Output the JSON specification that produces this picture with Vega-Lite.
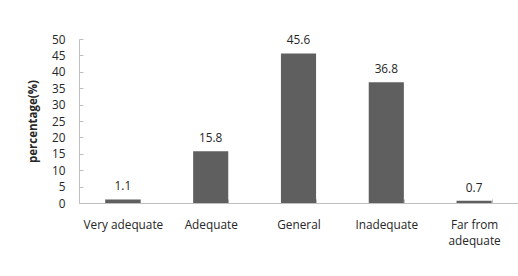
{
  "$schema": "https://vega.github.io/schema/vega-lite/v6.json",
  "autosize": "none",
  "padding": {"left": 79, "top": 39, "right": 0, "bottom": 73},
  "width": 439,
  "height": 164,
  "background": "white",
  "config": {
    "view": {"stroke": null},
    "font": "Open Sans",
    "axis": {"labelFont": "Open Sans", "titleFont": "Open Sans", "labelColor": "#262626", "titleColor": "#262626"}
  },
  "data": {
    "values": [
      {"category": "Very adequate", "percentage": 1.1},
      {"category": "Adequate", "percentage": 15.8},
      {"category": "General", "percentage": 45.6},
      {"category": "Inadequate", "percentage": 36.8},
      {"category": "Far from adequate", "percentage": 0.7}
    ]
  },
  "encoding": {
    "x": {
      "field": "category",
      "type": "nominal",
      "sort": null,
      "scale": {"paddingInner": 0.6, "paddingOuter": 0.3},
      "axis": {
        "title": null,
        "labelAngle": 0,
        "labelFontSize": 11.8,
        "labelPadding": 20,
        "labelExpr": "datum.label == 'Far from adequate' ? ['Far from', 'adequate'] : datum.label",
        "labelLineHeight": 16,
        "domainColor": "#bfbfbf",
        "tickColor": "#bfbfbf",
        "tickBand": "extent",
        "tickSize": -4,
        "labelBaseline": "top"
      }
    },
    "y": {
      "field": "percentage",
      "type": "quantitative",
      "scale": {"domain": [0, 50]},
      "axis": {
        "title": "percentage(%)",
        "titleFontWeight": "bold",
        "titleFontSize": 11.5,
        "titlePadding": 13,
        "values": [0, 5, 10, 15, 20, 25, 30, 35, 40, 45, 50],
        "labelFontSize": 11.8,
        "labelPadding": 18,
        "grid": false,
        "domainColor": "#bfbfbf",
        "tickColor": "#bfbfbf",
        "tickSize": -4
      }
    }
  },
  "layer": [
    {"mark": {"type": "bar", "color": "#5f5f5f"}},
    {
      "mark": {"type": "text", "baseline": "bottom", "dy": -7, "fontSize": 11.8, "color": "#262626", "font": "Open Sans"},
      "encoding": {"text": {"field": "percentage", "type": "quantitative", "format": ".1f"}}
    }
  ]
}
